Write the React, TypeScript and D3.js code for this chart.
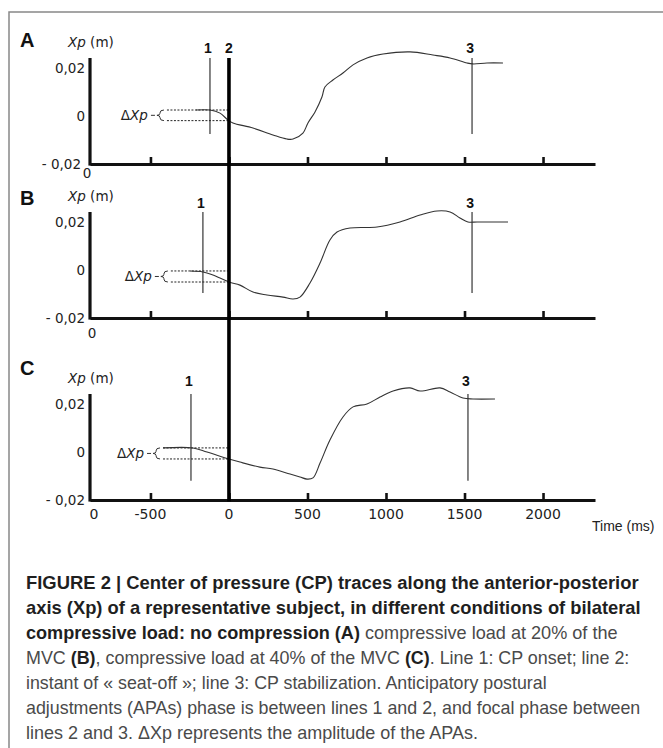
import React, { useEffect, useRef } from "react";
import * as d3 from "d3";

// CP traces (time in ms, Xp in m)
const timeA = [-210, -121, -57, -6, 25, 153, 280, 369, 408, 471, 503, 548, 592, 611, 662, 726, 790, 879, 981, 1153, 1299, 1408, 1516, 1554, 1643, 1745];
const xpA = [0.0025, 0.0025, 0.0012, -0.0017, -0.0029, -0.005, -0.0079, -0.0096, -0.0096, -0.0071, -0.0029, 0.0017, 0.0079, 0.0121, 0.015, 0.0179, 0.0213, 0.0242, 0.0258, 0.0267, 0.0254, 0.0242, 0.0221, 0.0217, 0.0221, 0.0221];

const timeB = [-248, -166, -102, 0, 70, 153, 242, 344, 408, 452, 516, 580, 643, 688, 771, 943, 1089, 1217, 1325, 1408, 1471, 1522, 1580, 1682, 1777];
const xpB = [-0.0004, -0.0008, -0.0021, -0.005, -0.0063, -0.0092, -0.0104, -0.0113, -0.0121, -0.0113, -0.0054, 0.0029, 0.0125, 0.0158, 0.0175, 0.0179, 0.02, 0.0229, 0.0246, 0.0242, 0.0217, 0.02, 0.02, 0.02, 0.02];

const timeC = [-420, -229, -140, 0, 70, 197, 280, 389, 452, 497, 535, 580, 643, 726, 790, 879, 962, 1045, 1153, 1217, 1344, 1408, 1490, 1554, 1694];
const xpC = [0.0017, 0.0017, 0, -0.0029, -0.0042, -0.0063, -0.0071, -0.0092, -0.0104, -0.0113, -0.0108, -0.0046, 0.005, 0.0146, 0.0188, 0.02, 0.0229, 0.0254, 0.0267, 0.0254, 0.0267, 0.025, 0.0225, 0.0221, 0.0221];

const panelNames = ["A", "B", "C"];
const lineOne = [-121, -166, -242]; // CP onset (ms)
const lineThree = [1548, 1548, 1522]; // CP stabilization (ms)
const markerLow = [-0.0075, -0.0096, -0.012];
const deltaFrom = [-395, -370, -420];

const xTickValues = [-500, 0, 500, 1000, 1500, 2000];
const xTickLabels = ["-500", "0", "500", "1000", "1500", "2000"];
const yTickValues = [0.02, 0, -0.02];
const yTickLabels = ["0,02", "0", "- 0,02"];

const captionLines: [string, boolean][][] = [
  [["FIGURE 2 | Center of pressure (CP) traces along the anterior-posterior", true]],
  [["axis (Xp) of a representative subject, in different conditions of bilateral", true]],
  [["compressive load: no compression (A)", true], [" compressive load at 20% of the", false]],
  [["MVC ", false], ["(B)", true], [", compressive load at 40% of the MVC ", false], ["(C)", true], [". Line 1: CP onset; line 2:", false]],
  [["instant of « seat-off »; line 3: CP stabilization. Anticipatory postural", false]],
  [["adjustments (APAs) phase is between lines 1 and 2, and focal phase between", false]],
  [["lines 2 and 3. ΔXp represents the amplitude of the APAs.", false]],
];
const captionWidths = [613, 615, 592, 604, 521, 615, 452];

// panel placement
const layout = [
  { axisY: 164, letterDy: -117, numDy: -111, originX: 87, originDy: 14 },
  { axisY: 318, letterDy: -113, numDy: -110, originX: 92, originDy: 20 },
  { axisY: 500, letterDy: -125, numDy: -114, originX: 94, originDy: 19 },
];

const FONT = "'DejaVu Sans', sans-serif";
const ARIAL = "'Liberation Sans', Arial, sans-serif";

export default function App() {
  const svgRef = useRef<SVGSVGElement>(null);

  useEffect(() => {
    const svg = d3.select(svgRef.current);
    svg.selectAll("*").remove();

    const x = d3.scaleLinear().domain([-885, 2331]).range([90, 595]);
    const series = [
      timeA.map((t, i) => [t, xpA[i]] as [number, number]),
      timeB.map((t, i) => [t, xpB[i]] as [number, number]),
      timeC.map((t, i) => [t, xpC[i]] as [number, number]),
    ];

    // frame
    svg
      .append("path")
      .attr("d", "M9,748V12H663")
      .attr("fill", "none")
      .attr("stroke", "#888")
      .attr("stroke-width", 1.5);

    series.forEach((data, i) => {
      const { axisY, letterDy, numDy, originX, originDy } = layout[i];
      const y = d3.scaleLinear().domain([-0.02, 0.02]).range([axisY, axisY - 96]);
      const top = axisY - 106;
      const g = svg.append("g");

      // panel letter
      g.append("text")
        .attr("x", 20)
        .attr("y", axisY + letterDy)
        .style("font-family", ARIAL)
        .style("font-weight", "bold")
        .style("font-size", "20px")
        .attr("fill", "#111")
        .text(panelNames[i]);

      // y label
      const yl = g
        .append("text")
        .attr("x", 68)
        .attr("y", axisY - 117)
        .style("font-family", FONT)
        .style("font-size", "13.5px")
        .attr("fill", "#222");
      yl.append("tspan").style("font-style", "italic").text("Xp");
      yl.append("tspan").text(" (m)");

      // y tick labels
      yTickValues.forEach((v, k) => {
        g.append("text")
          .attr("x", i === 0 && v < 0 ? 81 : 85)
          .attr("y", y(v) + 5)
          .attr("text-anchor", "end")
          .style("font-family", FONT)
          .style("font-size", "13.5px")
          .attr("fill", "#222")
          .text(yTickLabels[k]);
      });

      // origin "0" (bottom panel gets it with the tick row)
      if (i < 2) {
        g.append("text")
          .attr("x", originX)
          .attr("y", axisY + originDy)
          .attr("text-anchor", "middle")
          .style("font-family", FONT)
          .style("font-size", "13.5px")
          .attr("fill", "#222")
          .text("0");
      }

      // x axis
      const ax = g
        .append("g")
        .attr("transform", `translate(0,${axisY})`)
        .call(
          d3
            .axisTop(x)
            .tickValues(xTickValues)
            .tickSize(7)
            .tickSizeOuter(0)
            .tickFormat(() => "")
        );
      ax.select(".domain").attr("stroke", "#111").attr("stroke-width", 3.2);
      ax.selectAll(".tick line").attr("stroke", "#111").attr("stroke-width", 2.6);

      // y axis
      g.append("line")
        .attr("x1", 90)
        .attr("x2", 90)
        .attr("y1", top)
        .attr("y2", axisY + 1.6)
        .attr("stroke", "#111")
        .attr("stroke-width", 3.2);

      // lines 1 and 3
      [lineOne[i], lineThree[i]].forEach((t, k) => {
        g.append("line")
          .attr("x1", x(t))
          .attr("x2", x(t))
          .attr("y1", top)
          .attr("y2", y(markerLow[i]))
          .attr("stroke", "#444")
          .attr("stroke-width", 1.3);
        g.append("text")
          .attr("x", x(t) - 2)
          .attr("y", axisY + numDy)
          .attr("text-anchor", "middle")
          .style("font-family", ARIAL)
          .style("font-weight", "bold")
          .style("font-size", "14px")
          .attr("fill", "#111")
          .text(k === 0 ? "1" : "3");
      });

      // delta Xp dashed levels
      const upper = data[0][1];
      const j = data.findIndex((d) => d[0] >= 0);
      const a = data[j - 1] || data[j];
      const b = data[j];
      const lower = a === b ? b[1] : a[1] + ((0 - a[0]) / (b[0] - a[0])) * (b[1] - a[1]);
      [upper, lower].forEach((v) => {
        g.append("line")
          .attr("x1", x(deltaFrom[i]))
          .attr("x2", x(0))
          .attr("y1", y(v))
          .attr("y2", y(v))
          .attr("stroke", "#222")
          .attr("stroke-width", 1)
          .attr("stroke-dasharray", "2,1.5");
      });

      // brace
      const bx = x(deltaFrom[i]) - 7;
      const yt = y(upper);
      const yb = y(lower);
      const mid = (yt + yb) / 2;
      g.append("path")
        .attr(
          "d",
          `M${bx + 4},${yt} Q${bx},${yt} ${bx},${yt + 3} L${bx},${mid - 2} Q${bx},${mid} ${bx - 3},${mid} Q${bx},${mid} ${bx},${mid + 2} L${bx},${yb - 3} Q${bx},${yb} ${bx + 4},${yb} M${bx - 9},${mid} H${bx - 5}`
        )
        .attr("fill", "none")
        .attr("stroke", "#333")
        .attr("stroke-width", 1);
      const dl = g
        .append("text")
        .attr("x", bx - 12)
        .attr("y", mid + 5)
        .attr("text-anchor", "end")
        .style("font-family", FONT)
        .style("font-size", "13.5px")
        .attr("fill", "#222");
      dl.append("tspan").text("Δ");
      dl.append("tspan").style("font-style", "italic").text("Xp");

      // trace
      const line = d3
        .line<[number, number]>()
        .x((d) => x(d[0]))
        .y((d) => y(d[1]))
        .curve(d3.curveCatmullRom.alpha(0.5));
      g.append("path")
        .attr("d", line(data))
        .attr("fill", "none")
        .attr("stroke", "#333")
        .attr("stroke-width", 1.1);
    });

    // line 2 (seat-off) crossing all panels
    svg
      .append("line")
      .attr("x1", x(0))
      .attr("x2", x(0))
      .attr("y1", layout[0].axisY - 106)
      .attr("y2", layout[2].axisY + 1.5)
      .attr("stroke", "#000")
      .attr("stroke-width", 3.6);
    svg
      .append("text")
      .attr("x", x(0))
      .attr("y", layout[0].axisY + layout[0].numDy)
      .attr("text-anchor", "middle")
      .style("font-family", ARIAL)
      .style("font-weight", "bold")
      .style("font-size", "14px")
      .attr("fill", "#111")
      .text("2");

    // x tick labels (bottom panel only)
    const bottom = layout[2].axisY;
    xTickValues.forEach((t, k) => {
      svg
        .append("text")
        .attr("x", x(t))
        .attr("y", bottom + 19)
        .attr("text-anchor", "middle")
        .style("font-family", FONT)
        .style("font-size", "14px")
        .attr("fill", "#222")
        .text(xTickLabels[k]);
    });
    svg
      .append("text")
      .attr("x", layout[2].originX)
      .attr("y", bottom + layout[2].originDy)
      .attr("text-anchor", "middle")
      .style("font-family", FONT)
      .style("font-size", "14px")
      .attr("fill", "#222")
      .text("0");
    svg
      .append("text")
      .attr("x", 592)
      .attr("y", bottom + 31)
      .style("font-family", ARIAL)
      .style("font-size", "14px")
      .attr("fill", "#222")
      .text("Time (ms)");

    // caption
    captionLines.forEach((segs, k) => {
      const t = svg
        .append("text")
        .attr("x", 0)
        .attr("y", 0)
        .style("font-family", ARIAL)
        .style("font-size", "17.5px")
        .style("white-space", "pre");
      segs.forEach(([s, bold]) => {
        t.append("tspan")
          .style("font-weight", bold ? "bold" : "normal")
          .attr("fill", bold ? "#1f1f1f" : "#4a4a4a")
          .text(s);
      });
      const natural = (t.node() as SVGTextElement).getComputedTextLength();
      const sx = natural > 0 ? captionWidths[k] / natural : 1;
      t.attr("transform", `translate(26,${589 + k * 25}) scale(${sx},1)`);
    });
  }, []);

  return (
    <svg
      ref={svgRef}
      width={663}
      height={748}
      style={{ position: "absolute", left: 0, top: 0, background: "#fff" }}
    />
  );
}
